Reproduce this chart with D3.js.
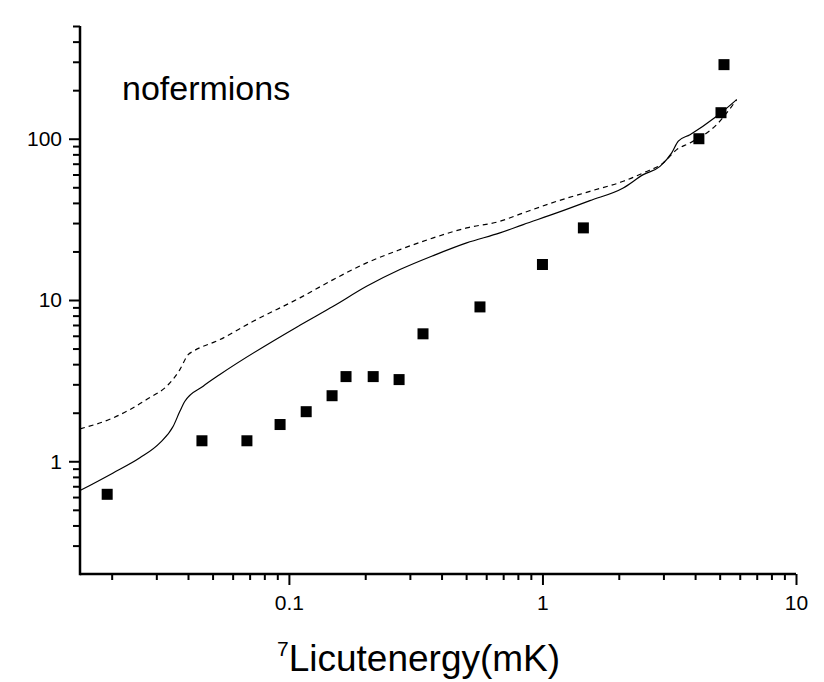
<!DOCTYPE html>
<html>
<head>
<meta charset="utf-8">
<script src="https://cdn.jsdelivr.net/npm/d3@7"></script>
<style>
  html, body { margin: 0; padding: 0; background: #fff; }
  svg { display: block; }
  text { font-family: Arial, "Liberation Sans", Helvetica, sans-serif; fill: #000; }
</style>
</head>
<body>
<svg id="chart" width="824" height="682"></svg>
<script>
// ---- data ----
const titleText = "nofermions";
const xMajorTicks = [0.1, 1, 10];
const xMajorLabels = ["0.1", "1", "10"];
const xMinorTicks = [0.02,0.03,0.04,0.05,0.06,0.07,0.08,0.09,
                     0.2,0.3,0.4,0.5,0.6,0.7,0.8,0.9,
                     2,3,4,5,6,7,8,9];
const yMajorTicks = [1, 10, 100];
const yMajorLabels = ["1", "10", "100"];
const yMinorTicks = [0.3,0.4,0.5,0.6,0.7,0.8,0.9,
                     2,3,4,5,6,7,8,9,
                     20,30,40,50,60,70,80,90,
                     200,300,400,500];

// experimental points
const expX = [0.0192, 0.0454, 0.0683, 0.0923, 0.117, 0.148, 0.168, 0.215, 0.272, 0.338, 0.567, 1.0, 1.45, 4.14, 5.06, 5.2];
const expY = [0.624, 1.34, 1.34, 1.69, 2.03, 2.55, 3.35, 3.35, 3.21, 6.17, 9.06, 16.6, 28.0, 100, 145, 288];

// solid curve
const solidX = [0.015, 0.02027, 0.02584, 0.03098, 0.03497, 0.03715, 0.03888, 0.0459, 0.05342, 0.1105, 0.1496, 0.2025, 0.2741, 0.3709, 0.5023, 0.6797, 0.840, 1.138, 1.539, 2.083, 2.498, 2.908, 3.234, 3.434, 3.818, 4.866, 5.834];
const solidY = [0.658, 0.847, 1.05, 1.30, 1.648, 2.04, 2.355, 2.92, 3.45, 6.97, 9.14, 12.16, 15.44, 18.85, 22.6, 26.06, 29.35, 34.67, 41.33, 49.55, 59.9, 67.4, 81.7, 96.6, 106.0, 137.7, 174.8];

// dashed curve
const dashX = [0.015, 0.02027, 0.02746, 0.03393, 0.03715, 0.04006, 0.04193, 0.05342, 0.0723, 0.1105, 0.1496, 0.2025, 0.2741, 0.3709, 0.5023, 0.6797, 0.840, 1.138, 1.539, 2.083, 2.498, 2.996, 3.384, 3.818, 4.866, 5.834];
const dashY = [1.588, 1.858, 2.413, 3.06, 3.70, 4.59, 4.81, 5.68, 7.38, 10.31, 13.38, 16.98, 20.53, 24.27, 27.99, 30.76, 34.67, 40.92, 47.2, 54.45, 61.4, 70.8, 85.6, 94.2, 122.3, 174.8];

// ---- chart ----
const svg = d3.select("#chart");
const mLeft = 80, mRight = 796, mTop = 26, mBottom = 574;
const FONT = "Arial, 'Liberation Sans', Helvetica, sans-serif";

const x = d3.scaleLog().domain([0.015, 10]).range([mLeft, mRight]);
const y = d3.scaleLog().domain([0.2, 500]).range([mBottom, mTop]);

// minor ticks
svg.append("g")
  .attr("transform", `translate(0,${mBottom})`)
  .call(d3.axisBottom(x).tickValues(xMinorTicks).tickSize(6).tickFormat(""))
  .call(g => g.select(".domain").remove())
  .call(g => g.selectAll("line").attr("stroke", "#000").attr("stroke-width", 2));

svg.append("g")
  .attr("transform", `translate(${mLeft},0)`)
  .call(d3.axisLeft(y).tickValues(yMinorTicks).tickSize(7).tickFormat(""))
  .call(g => g.select(".domain").remove())
  .call(g => g.selectAll("line").attr("stroke", "#000").attr("stroke-width", 2));

// major ticks
const xAxis = svg.append("g")
  .attr("transform", `translate(0,${mBottom})`)
  .call(d3.axisBottom(x).tickValues(xMajorTicks).tickSize(11).tickPadding(10)
        .tickFormat((d, i) => xMajorLabels[i]));
xAxis.select(".domain").remove();
xAxis.attr("font-size", null).attr("font-family", null);
xAxis.selectAll("line").attr("stroke", "#000").attr("stroke-width", 2);
xAxis.selectAll("text").style("font-size", "21px").style("font-family", FONT).style("fill", "#000");

const yAxis = svg.append("g")
  .attr("transform", `translate(${mLeft},0)`)
  .call(d3.axisLeft(y).tickValues(yMajorTicks).tickSize(11).tickPadding(7)
        .tickFormat((d, i) => yMajorLabels[i]));
yAxis.select(".domain").remove();
yAxis.attr("font-size", null).attr("font-family", null);
yAxis.selectAll("line").attr("stroke", "#000").attr("stroke-width", 2);
yAxis.selectAll("text").style("font-size", "21px").style("font-family", FONT).style("fill", "#000");

// axis lines
svg.append("line").attr("x1", mLeft).attr("x2", mRight).attr("y1", mBottom).attr("y2", mBottom)
  .attr("stroke", "#000").attr("stroke-width", 2.5);
svg.append("line").attr("x1", mLeft).attr("x2", mLeft).attr("y1", mTop).attr("y2", mBottom + 1.25)
  .attr("stroke", "#000").attr("stroke-width", 2.5);

// curves
const line = d3.line().x(d => x(d[0])).y(d => y(d[1])).curve(d3.curveMonotoneX);
svg.append("path")
  .datum(solidX.map((v, i) => [v, solidY[i]]))
  .attr("d", line).attr("fill", "none").attr("stroke", "#000").attr("stroke-width", 1.2);
svg.append("path")
  .datum(dashX.map((v, i) => [v, dashY[i]]))
  .attr("d", line).attr("fill", "none").attr("stroke", "#000").attr("stroke-width", 1.2)
  .attr("stroke-dasharray", "5,4");

// squares
const sq = 11;
svg.append("g").selectAll("rect")
  .data(expX.map((v, i) => [v, expY[i]]))
  .join("rect")
  .attr("x", d => x(d[0]) - sq / 2)
  .attr("y", d => y(d[1]) - sq / 2)
  .attr("width", sq).attr("height", sq)
  .attr("fill", "#000");

// title
svg.append("text").attr("x", 122).attr("y", 100).style("font-size", "34px").text(titleText);

// x label
const xl = svg.append("text").attr("x", 277).attr("y", 671)
  .attr("text-anchor", "start").style("font-size", "37px");
xl.append("tspan").style("font-size", "21px").attr("dy", -15).text("7");
xl.append("tspan").attr("dy", 15).text("Licutenergy(mK)");
</script>
</body>
</html>
